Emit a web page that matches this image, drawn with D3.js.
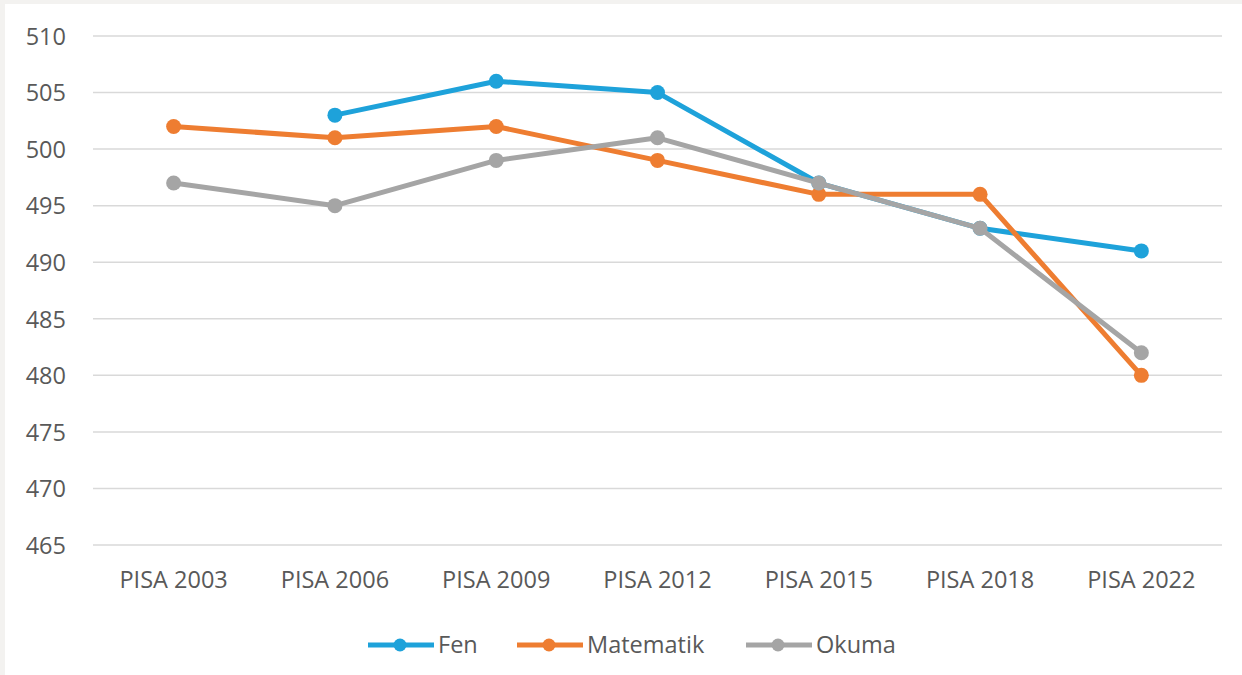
<!DOCTYPE html>
<html>
<head>
<meta charset="utf-8">
<script src="https://cdn.jsdelivr.net/npm/d3@7"></script>
<style>
  html, body { margin: 0; padding: 0; background: #ffffff; }
  svg { display: block; }
  text { font-family: "Open Sans", "Noto Sans", sans-serif; }
</style>
</head>
<body>
<svg id="chart" width="1242" height="675"></svg>
<script>
// PISA scores by domain
const categories = ["PISA 2003", "PISA 2006", "PISA 2009", "PISA 2012", "PISA 2015", "PISA 2018", "PISA 2022"];
const fen       = [null, 503, 506, 505, 497, 493, 491];
const matematik = [502, 501, 502, 499, 496, 496, 480];
const okuma     = [497, 495, 499, 501, 497, 493, 482];
const yTicks    = [465, 470, 475, 480, 485, 490, 495, 500, 505, 510];

const series = [
  { name: "Fen",       values: fen,       color: "#1ea2da" },
  { name: "Matematik", values: matematik, color: "#ee7d31" },
  { name: "Okuma",     values: okuma,     color: "#a5a5a5" }
];

const svg = d3.select("#chart");
const W = 1242, H = 675;

// thin frame on the top and left edges
svg.append("rect").attr("x", 0).attr("y", 0).attr("width", W).attr("height", 4).attr("fill", "#f3f2f0");
svg.append("rect").attr("x", 0).attr("y", 0).attr("width", 5).attr("height", H).attr("fill", "#f3f2f0");

const plot = { left: 93, right: 1222, top: 36, bottom: 545 };

const x = d3.scaleBand().domain(categories).range([plot.left, plot.right]);
const y = d3.scaleLinear().domain([465, 510]).range([plot.bottom, plot.top]);

const labelSize = 23.5;
const labelColor = "#595959";

// horizontal gridlines
svg.append("g")
  .selectAll("line")
  .data(yTicks)
  .join("line")
  .attr("x1", plot.left).attr("x2", plot.right)
  .attr("y1", d => y(d)).attr("y2", d => y(d))
  .attr("stroke", "#d9d9d9").attr("stroke-width", 1.5);

// y axis labels
const yAxis = d3.axisLeft(y).tickValues(yTicks).tickSize(0).tickPadding(0);
const gy = svg.append("g").attr("transform", `translate(66,0)`).call(yAxis);
gy.select(".domain").remove();
gy.selectAll("text")
  .attr("fill", labelColor).attr("font-size", labelSize).attr("dy", "0.35em");

// x axis labels
const xAxis = d3.axisBottom(x).tickSize(0).tickPadding(0);
const gx = svg.append("g").attr("transform", `translate(0,580)`).call(xAxis);
gx.select(".domain").remove();
gx.selectAll("text")
  .attr("fill", labelColor).attr("font-size", labelSize).attr("dy", "0.35em");

const cx = c => x(c) + x.bandwidth() / 2;

const line = d3.line()
  .defined(d => d.v !== null)
  .x(d => cx(d.c))
  .y(d => y(d.v));

series.forEach(s => {
  const pts = categories.map((c, i) => ({ c, v: s.values[i] }));
  const g = svg.append("g");
  g.append("path")
    .datum(pts)
    .attr("d", line)
    .attr("fill", "none")
    .attr("stroke", s.color)
    .attr("stroke-width", 5)
    .attr("stroke-linejoin", "round")
    .attr("stroke-linecap", "round");
  g.selectAll("circle")
    .data(pts.filter(d => d.v !== null))
    .join("circle")
    .attr("cx", d => cx(d.c))
    .attr("cy", d => y(d.v))
    .attr("r", 7.5)
    .attr("fill", s.color);
});

// legend
const legendX = [368, 517, 746];
const legendY = 645;
series.forEach((s, i) => {
  const lx = legendX[i];
  const g = svg.append("g");
  g.append("line")
    .attr("x1", lx).attr("x2", lx + 66)
    .attr("y1", legendY).attr("y2", legendY)
    .attr("stroke", s.color).attr("stroke-width", 5);
  g.append("circle")
    .attr("cx", lx + 32).attr("cy", legendY).attr("r", 6.5)
    .attr("fill", s.color);
  g.append("text")
    .attr("x", lx + 70).attr("y", legendY).attr("dy", "0.35em")
    .attr("fill", labelColor).attr("font-size", labelSize)
    .text(s.name);
});
</script>
</body>
</html>
